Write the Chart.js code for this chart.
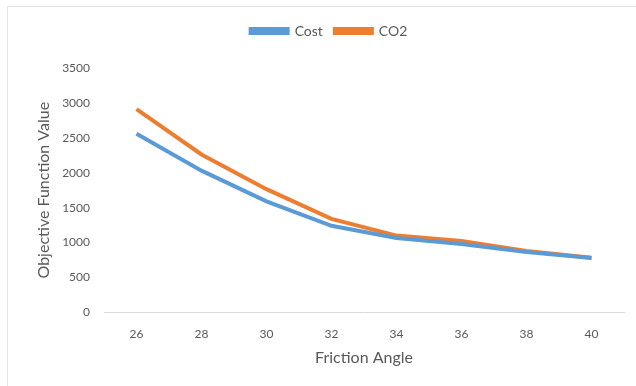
<!DOCTYPE html>
<html>
<head>
<meta charset="utf-8">
<script src="https://cdn.jsdelivr.net/npm/chart.js@4/dist/chart.umd.min.js"></script>
<style>
  html, body { margin: 0; padding: 0; background: #ffffff; }
  #wrap { position: relative; width: 636px; height: 386px; }
</style>
</head>
<body>
<div id="wrap"><canvas id="c" width="636" height="386"></canvas></div>
<script>
const categories = ["26", "28", "30", "32", "34", "36", "38", "40"];
const costValues = [2560, 2030, 1590, 1240, 1066, 980, 866, 778];
const co2Values  = [2910, 2262, 1765, 1340, 1100, 1023, 878, 782];
const yTicks = [0, 500, 1000, 1500, 2000, 2500, 3000, 3500];

const FONT = "Lato, 'Open Sans', sans-serif";
const GREY = "#595959";

const frame = {
  id: "frame",
  beforeDraw(chart) {
    const ctx = chart.ctx;
    ctx.save();
    ctx.fillStyle = "#ffffff";
    ctx.fillRect(0, 0, chart.width, chart.height);
    ctx.strokeStyle = "#e3e3e3";
    ctx.lineWidth = 1;
    ctx.beginPath();
    ctx.moveTo(7.5, chart.height);
    ctx.lineTo(7.5, 6.5);
    ctx.lineTo(chart.width, 6.5);
    ctx.stroke();
    ctx.restore();
  }
};

const legendGap = {
  id: "legendGap",
  afterInit(chart) {
    const lg = chart.legend;
    if (!lg) return;
    const fit = lg.fit;
    lg.fit = function () { fit.call(this); this.height += 20; };
  }
};

new Chart(document.getElementById("c"), {
  type: "line",
  data: {
    labels: categories,
    datasets: [
      { label: "Cost", data: costValues, borderColor: "#5B9BD5", backgroundColor: "#5B9BD5",
        borderWidth: 4, pointRadius: 0, tension: 0, fill: false },
      { label: "CO2", data: co2Values, borderColor: "#ED7D31", backgroundColor: "#ED7D31",
        borderWidth: 4, pointRadius: 0, tension: 0, fill: false }
    ]
  },
  options: {
    responsive: false,
    animation: false,
    layout: { padding: { left: 34, right: 12, top: 12, bottom: 19 } },
    plugins: {
      legend: {
        display: true,
        position: "top",
        labels: {
          boxWidth: 37, boxHeight: 4, padding: 12,
          color: GREY, font: { family: FONT, size: 14 }
        }
      },
      tooltip: { enabled: false }
    },
    scales: {
      x: {
        offset: true,
        grid: { display: false, drawTicks: false },
        border: { display: true, color: "#d9d9d9", width: 1 },
        ticks: { color: GREY, font: { family: FONT, size: 12 }, padding: 15 },
        title: { display: true, text: "Friction Angle", color: GREY,
                 font: { family: FONT, size: 16 }, padding: { top: -9, bottom: 0 } }
      },
      y: {
        min: 0, max: 3500,
        afterBuildTicks(scale) { scale.ticks = yTicks.map(v => ({ value: v })); },
        afterFit(scale) { scale.width = 70; },
        grid: { display: false, drawTicks: false },
        border: { display: false },
        ticks: { color: GREY, font: { family: FONT, size: 12 }, padding: 14,
                 callback: (v) => String(v) },
        title: { display: true, text: "Objective Function Value", color: GREY,
                 font: { family: FONT, size: 16 }, padding: { top: 0, bottom: 0 } }
      }
    }
  },
  plugins: [frame, legendGap]
});
</script>
</body>
</html>
